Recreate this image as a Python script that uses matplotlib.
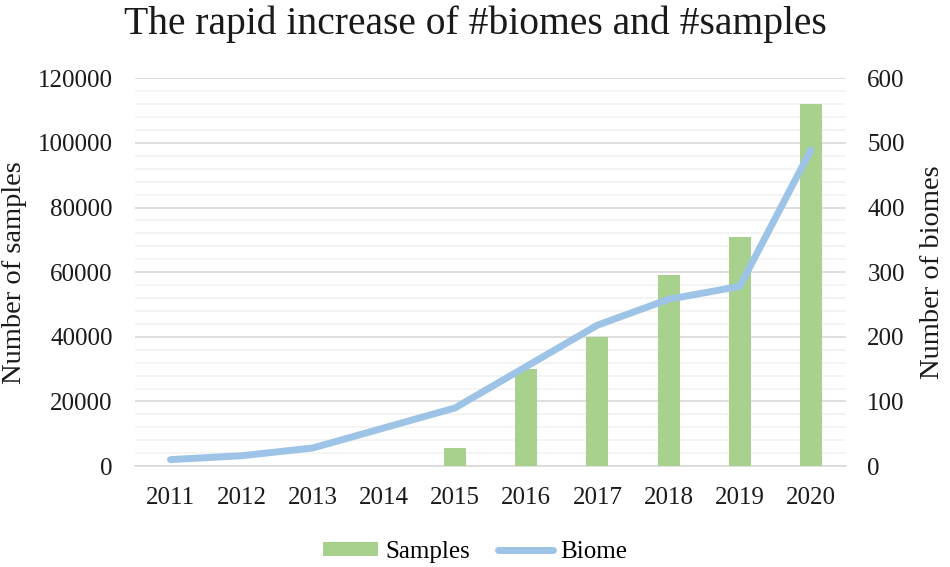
import matplotlib
matplotlib.use("Agg")
import matplotlib.pyplot as plt
from matplotlib.ticker import MultipleLocator
import numpy as np

years = ["2011", "2012", "2013", "2014", "2015", "2016", "2017", "2018", "2019", "2020"]
samples = [0, 0, 0, 0, 5700, 30000, 40000, 59000, 71000, 112000]
biomes = [10, 16, 28, 59, 90, 154, 218, 258, 278, 489]

plt.rcParams['font.family'] = ['Liberation Serif', 'DejaVu Serif']

fig = plt.figure(figsize=(9.5, 5.67), dpi=100)
ax = fig.add_axes([0.142, 0.178, 0.749, 0.684])
ax2 = ax.twinx()

x = np.arange(len(years))
bar_color = '#A9D18E'
line_color = '#9DC3E6'

ax.bar(x, samples, width=0.31, color=bar_color, label='Samples', zorder=3)
ax2.plot(x, biomes, color=line_color, linewidth=5, solid_capstyle='round', label='Biome', zorder=4)

ax.set_xlim(-0.5, len(years) - 0.5)
ax.set_ylim(0, 120000)
ax2.set_ylim(0, 600)
ax.yaxis.set_major_locator(MultipleLocator(20000))
ax.yaxis.set_minor_locator(MultipleLocator(4000))
ax2.yaxis.set_major_locator(MultipleLocator(100))

ax.grid(which='major', axis='y', color='#D9D9D9', linewidth=1.2, zorder=0)
ax.grid(which='minor', axis='y', color='#F2F2F2', linewidth=1.2, zorder=0)
ax.set_axisbelow(True)

for a in (ax, ax2):
    for s in a.spines.values():
        s.set_visible(False)
    a.tick_params(which='both', length=0, labelsize=18, colors='#1a1a1a')
ax.spines['bottom'].set_visible(True)
ax.spines['bottom'].set_color('#D9D9D9')
ax.spines['bottom'].set_linewidth(1.2)

ax.set_xticks(x)
ax.set_xticklabels(years)
ax.tick_params(axis='x', pad=15)
ax.tick_params(axis='y', pad=16)
ax2.tick_params(axis='y', pad=15)

ax.set_ylabel('Number of samples', fontsize=20.5, labelpad=8, color='#1a1a1a')
ax2.set_ylabel('Number of biomes', fontsize=20.5, labelpad=11, color='#1a1a1a')

fig.suptitle('The rapid increase of #biomes and #samples', fontsize=28.5, y=0.99, color='#1a1a1a')

h1, l1 = ax.get_legend_handles_labels()
h2, l2 = ax2.get_legend_handles_labels()
fig.legend(h1 + h2, l1 + l2, loc='center', bbox_to_anchor=(0.5, 0.027), ncol=2,
           frameon=False, fontsize=18, handlelength=2.2, handleheight=0.5,
           handletextpad=0.3, columnspacing=1.1)

fig.savefig('out.png', dpi=100)
